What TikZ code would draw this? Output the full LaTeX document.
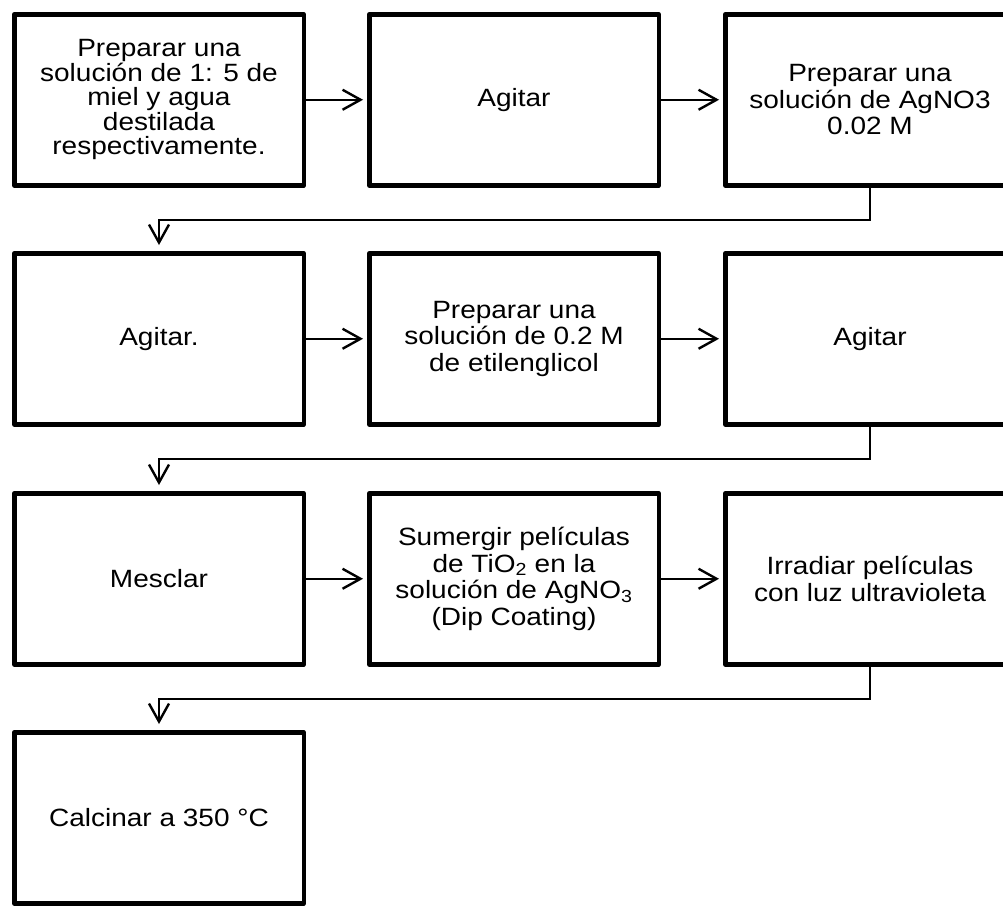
\documentclass[tikz,border=0pt]{standalone}
\usepackage{fontspec}
\setmainfont{Liberation Sans}[FakeStretch=1.12]
\usetikzlibrary{arrows.meta}

\tikzset{
  stepbox/.style={draw=black, line width=4.5pt, line join=round,
    minimum width=289.5pt, minimum height=171pt, inner sep=0pt,
    align=center, font=\fontsize{25}{26.5}\selectfont},
  tightbox/.style={stepbox, font=\fontsize{25}{24.5}\selectfont},
  flow/.style={draw=black, line width=2pt,
    -{Straight Barb[length=18pt,width=20pt,line width=2.4pt]}},
}

\begin{document}
\begin{tikzpicture}[x=1pt,y=-1pt]
  \useasboundingbox (0,0) rectangle (1003,905);
  \clip (0,0) rectangle (1003,905);

  % row 1
  \node[tightbox] (r1c1) at (159,99.75) {Preparar una\\solución de 1: 5 de\\miel y agua\\destilada\\respectivamente.};
  \node[stepbox] (r1c2) at (514,99.75) {Agitar};
  \node[stepbox] (r1c3) at (870,99.75) {Preparar una\\solución de AgNO3\\0.02 M};

  % row 2
  \node[stepbox] (r2c1) at (159,338.75) {Agitar.};
  \node[stepbox] (r2c2) at (514,338.75) {Preparar una\\solución de 0.2 M\\de etilenglicol};
  \node[stepbox] (r2c3) at (870,338.75) {Agitar};

  % row 3
  \node[stepbox] (r3c1) at (159,578.75) {Mesclar};
  \node[stepbox] (r3c2) at (514,578.75) {Sumergir películas\\de TiO\textsubscript{2} en la\\solución de AgNO\textsubscript{3}\\(Dip Coating)};
  \node[stepbox] (r3c3) at (870,578.75) {Irradiar películas\\con luz ultravioleta};

  % row 4
  \node[stepbox] (r4c1) at (159,817.75) {Calcinar a 350 °C};

  % horizontal steps
  \draw[flow, shorten >=4pt] (r1c1.east) -- (r1c2.west);
  \draw[flow, shorten >=4pt] (r1c2.east) -- (r1c3.west);
  \draw[flow, shorten >=4pt] (r2c1.east) -- (r2c2.west);
  \draw[flow, shorten >=4pt] (r2c2.east) -- (r2c3.west);
  \draw[flow, shorten >=4pt] (r3c1.east) -- (r3c2.west);
  \draw[flow, shorten >=4pt] (r3c2.east) -- (r3c3.west);

  % row changes
  \draw[flow, shorten >=6pt] (r1c3.south) -- ++(0,32) -| (r2c1.north);
  \draw[flow, shorten >=6pt] (r2c3.south) -- ++(0,32) -| (r3c1.north);
  \draw[flow, shorten >=6pt] (r3c3.south) -- ++(0,32) -| (r4c1.north);
\end{tikzpicture}
\end{document}
